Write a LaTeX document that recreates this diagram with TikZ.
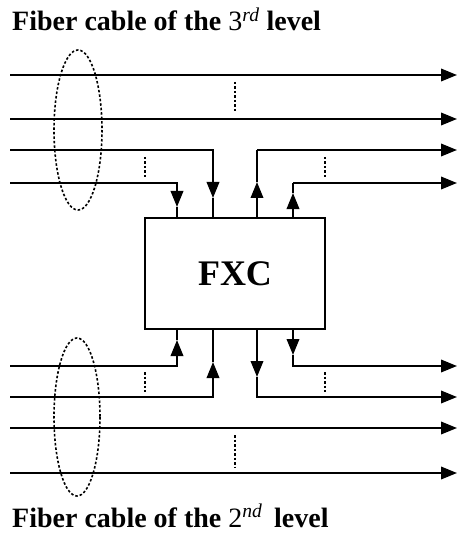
\documentclass[tikz,border=0pt]{standalone}
\usepackage{fontspec}
\setmainfont{Liberation Serif}
\usetikzlibrary{arrows.meta}
\tikzset{
  wire/.style={line width=2pt},
  tip/.style={wire,-{Triangle[length=16pt,width=12.5pt]}},
  fxcbox/.style={draw,line width=2pt,minimum width=180pt,minimum height=111pt,inner sep=0pt},
  group/.style={draw,line width=1.6pt,dash pattern=on 2.5pt off 2pt},
  ellip/.style={line width=1.6pt,dash pattern=on 2.5pt off 2pt},
  title/.style={anchor=base west,inner sep=0pt,font=\fontsize{28}{30}\selectfont\bfseries}
}
\begin{document}
\begin{tikzpicture}[x=1pt,y=-1pt]
\useasboundingbox (0,0) rectangle (457,537);
% titles
\node[title] (t3) at (12,31) {Fiber cable of the {\mdseries 3}\textsuperscript{\mdseries\itshape rd} level};
\node[title] (t2) at (12,527) {Fiber cable of the {\mdseries 2}\textsuperscript{\mdseries\itshape nd}\, level};
% box
\node[fxcbox] (fxc) at (235,273.5) {\fontsize{36}{38}\selectfont\bfseries FXC};
% coordinates
\foreach \n/\y in {a/75,b/119,c/150,d/183,e/366,f/397,g/428,h/473}{
  \coordinate (in\n) at (10,\y);
  \coordinate (out\n) at (457,\y);
}
% top straight-through
\draw[tip] (ina) -- (outa);
\draw[tip] (inb) -- (outb);
% top drops
\coordinate (tc1) at (213,198);
\coordinate (td1) at (177,207);
\draw[tip] (inc) -| (tc1);
\draw[wire] (tc1) -- (fxc.north -| tc1);
\draw[tip] (ind) -| (td1);
\draw[wire] (td1) -- (fxc.north -| td1);
% top adds
\coordinate (uc1) at (257,182);
\coordinate (ud1) at (293,193);
\draw[tip] (fxc.north -| uc1) -- (uc1);
\draw[wire] (uc1) -- (uc1 |- outc);
\draw[tip] (uc1 |- outc) -- (outc);
\draw[tip] (fxc.north -| ud1) -- (ud1);
\draw[wire] (ud1) -- (ud1 |- outd);
\draw[tip] (ud1 |- outd) -- (outd);
% bottom adds (into box)
\coordinate (be1) at (177,340);
\coordinate (bf1) at (213,362);
\draw[tip] (ine) -| (be1);
\draw[wire] (be1) -- (fxc.south -| be1);
\draw[tip] (inf) -| (bf1);
\draw[wire] (bf1) -- (fxc.south -| bf1);
% bottom drops (out of box)
\coordinate (bo1) at (257,377);
\coordinate (bo2) at (293,355);
\draw[tip] (fxc.south -| bo1) -- (bo1);
\draw[tip] (bo1) |- (outf);
\draw[tip] (fxc.south -| bo2) -- (bo2);
\draw[tip] (bo2) |- (oute);
% bottom straight-through
\draw[tip] (ing) -- (outg);
\draw[tip] (inh) -- (outh);
% ellipses marking cables
\draw[group] (78,130) ellipse [x radius=24, y radius=80];
\draw[group] (77,417) ellipse [x radius=23, y radius=79];
% dashed ellipsis marks
\draw[ellip] (235,82) -- (235,113);
\draw[ellip] (145,157) -- (145,177);
\draw[ellip] (325,157) -- (325,177);
\draw[ellip] (145,372) -- (145,392);
\draw[ellip] (325,372) -- (325,392);
\draw[ellip] (235,435) -- (235,467);
\end{tikzpicture}
\end{document}
